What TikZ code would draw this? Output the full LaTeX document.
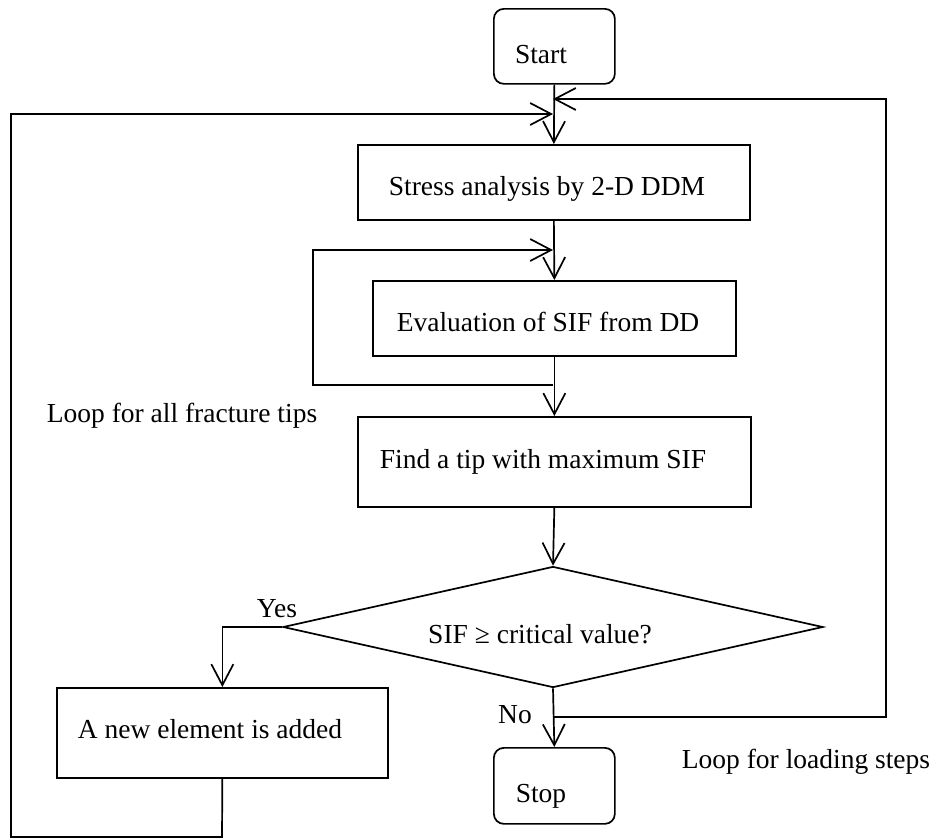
\documentclass[tikz,border=0pt]{standalone}
\usepackage{fontspec}
\setmainfont{Liberation Serif}
\usetikzlibrary{arrows.meta,shapes.geometric}
\begin{document}
\begin{tikzpicture}[x=1pt,y=-1pt,
  every node/.style={font=\fontsize{27.5}{32}\selectfont},
  box/.style={draw,line width=1.7pt,inner sep=0pt,anchor=north west},
  term/.style={box,rounded corners=10pt},
  line/.style={line width=1.7pt},
  arr/.style={line,-{Straight Barb[length=21pt,width=22pt,line width=1.7pt]}},
  lbl/.style={anchor=base,inner sep=0pt}]
\useasboundingbox (0,0) rectangle (936,838);
% nodes
\node[term,minimum width=121pt,minimum height=75pt] (start) at (493,8) {};
\node[lbl] (starttxt) at (541,63) {Start};
\node[box,minimum width=392pt,minimum height=75pt] (stress) at (357,144) {};
\node[lbl] (stresstxt) at (547,195) {Stress analysis by 2-D DDM};
\node[box,minimum width=363pt,minimum height=75pt] (eval) at (372,280) {};
\node[lbl] (evaltxt) at (548,331) {Evaluation of SIF from DD};
\node[box,minimum width=393pt,minimum height=90pt] (find) at (357,416) {};
\node[lbl] (findtxt) at (543,468) {Find a tip with maximum SIF};
\node[diamond,draw,line width=1.7pt,inner sep=0pt,minimum width=540pt,minimum height=121pt,aspect=4.5] (dec) at (553,627) {};
\node[lbl] (dectxt) at (540,643) {SIF ≥ critical value?};
\node[box,minimum width=331pt,minimum height=90pt] (add) at (56,687) {};
\node[lbl] (addtxt) at (210,738) {A new element is added};
\node[term,minimum width=121pt,minimum height=76pt] (stop) at (493,747) {};
\node[lbl] (stoptxt) at (541,802) {Stop};
\node[lbl] (yes) at (277,617) {Yes};
\node[lbl] (no) at (515,723) {No};
\node[lbl] (ltips) at (182,422) {Loop for all fracture tips};
\node[lbl] (lload) at (806,768) {Loop for loading steps};
% junction coordinates
\coordinate (jr) at (553,99);
\coordinate (jl) at (553,114);
\coordinate (ji) at (553,250);
\coordinate (jo) at (553,385);
\coordinate (jn) at (553,717);
% main flow
\draw[arr] (start.south) -- (stress.north);
\draw[arr] (stress.south) -- (eval.north);
\draw[arr] (eval.south) -- (find.north);
\draw[arr] (find.south) -- (dec.north);
\draw[arr] (dec.south) -- (stop.north);
\draw[arr] (dec.west) -| (add.north);
% loops
\draw[arr] (jn) -- (886,717) -- (886,99) -- (jr);
\draw[arr] (add.south) -- (222,837) -- (11,837) -- (11,114) -- (jl);
\draw[arr] (jo) -- (313,385) -- (313,250) -- (ji);
\end{tikzpicture}
\end{document}
